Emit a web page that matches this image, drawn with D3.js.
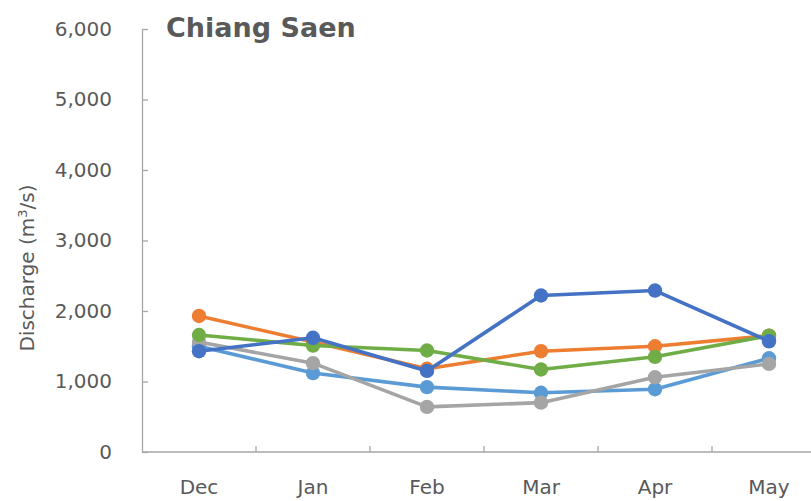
<!DOCTYPE html>
<html>
<head>
<meta charset="utf-8">
<script src="https://cdn.jsdelivr.net/npm/d3@7"></script>
<style>
  html, body { margin: 0; padding: 0; background: #fff; }
  svg { display: block; }
</style>
</head>
<body>
<div id="chart"></div>
<script>
// ---- Data ----
const months = ["Dec", "Jan", "Feb", "Mar", "Apr", "May"];
const yTicks = [0, 1000, 2000, 3000, 4000, 5000, 6000];
const seriesNames = ["Series 1", "Series 2", "Series 3", "Series 4", "Series 5"];
const seriesColors = ["#5B9BD5", "#A5A5A5", "#ED7D31", "#70AD47", "#4472C4"];
const lightBlueValues = [1500, 1120, 920, 840, 890, 1330];
const grayValues      = [1560, 1260, 640, 700, 1060, 1250];
const orangeValues    = [1930, 1560, 1180, 1430, 1500, 1650];
const greenValues     = [1660, 1510, 1440, 1170, 1350, 1650];
const blueValues      = [1430, 1620, 1150, 2220, 2290, 1570];
const seriesValues = [lightBlueValues, grayValues, orangeValues, greenValues, blueValues];
const titleText = "Chiang Saen";

// ---- Layout ----
const W = 811, H = 501;
const plotLeft = 142, plotBottom = 452, plotTop = 29;
const step = 114;
const plotRight = plotLeft + step * months.length;

const svg = d3.select("#chart").append("svg")
  .attr("width", W).attr("height", H);

const x = d3.scaleBand().domain(months).range([plotLeft, plotRight]).paddingInner(0).paddingOuter(0);
const y = d3.scaleLinear().domain([0, 6000]).range([plotBottom, plotTop]);

const axisColor = "#a6a6a6";
const textColor = "#595959";
const font = "DejaVu Sans, sans-serif";

// Y axis
const yAxis = d3.axisLeft(y).tickValues(yTicks).tickFormat(d3.format(",")).tickSizeInner(-6).tickSizeOuter(0).tickPadding(30);
const gy = svg.append("g").attr("transform", `translate(${plotLeft},0)`).call(yAxis);
gy.select(".domain").attr("stroke", axisColor).attr("stroke-width", 1.3);
gy.selectAll(".tick line").attr("stroke", axisColor).attr("stroke-width", 1.3);
gy.selectAll(".tick text").attr("fill", textColor).style("font-family", font).style("font-size", "20px");

// X axis (labels at category centers)
const xAxis = d3.axisBottom(x).tickSize(0).tickPadding(28);
const gx = svg.append("g").attr("transform", `translate(0,${plotBottom})`).call(xAxis);
gx.select(".domain").remove();
gx.selectAll(".tick text").attr("fill", textColor).style("font-family", font).style("font-size", "20px");
svg.append("line").attr("x1", plotLeft).attr("x2", plotRight).attr("y1", plotBottom).attr("y2", plotBottom)
  .attr("stroke", axisColor).attr("stroke-width", 1.3);
// category boundary tick marks (inside)
svg.append("g").selectAll("line").data(months.slice(1)).join("line")
  .attr("x1", d => x(d)).attr("x2", d => x(d))
  .attr("y1", plotBottom).attr("y2", plotBottom - 6)
  .attr("stroke", axisColor).attr("stroke-width", 1.3);

// Y axis title
const yt = svg.append("text")
  .attr("transform", `translate(34,268) rotate(-90)`)
  .attr("text-anchor", "middle")
  .attr("fill", textColor)
  .style("font-family", font).style("font-size", "20px");
yt.append("tspan").text("Discharge (m");
yt.append("tspan").text("3").attr("baseline-shift", "super").style("font-size", "13px");
yt.append("tspan").text("/s)");

// Title
svg.append("text").attr("x", 166).attr("y", 37)
  .attr("fill", textColor)
  .style("font-family", font).style("font-size", "27px").style("font-weight", "bold")
  .text(titleText);

// Lines & markers
const cx = m => x(m) + x.bandwidth() / 2;
const line = d3.line().x((d, i) => cx(months[i])).y(d => y(d));
seriesValues.forEach((vals, si) => {
  const g = svg.append("g").attr("class", "series").attr("data-name", seriesNames[si]);
  g.append("path").datum(vals)
    .attr("d", line)
    .attr("fill", "none")
    .attr("stroke", seriesColors[si])
    .attr("stroke-width", 3.6)
    .attr("stroke-linejoin", "round");
  g.selectAll("circle").data(vals).join("circle")
    .attr("cx", (d, i) => cx(months[i]))
    .attr("cy", d => y(d))
    .attr("r", 7.2)
    .attr("fill", seriesColors[si]);
});
</script>
</body>
</html>
